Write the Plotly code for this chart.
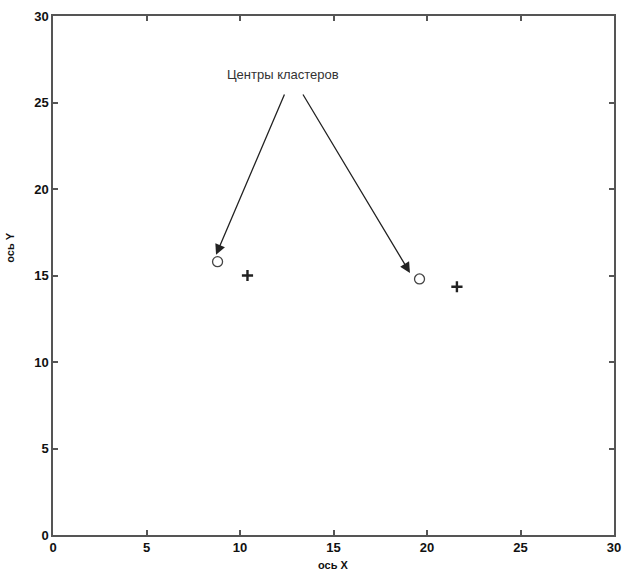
import plotly.graph_objects as go

# Data
centers_x = [8.8, 19.6]
centers_y = [15.8, 14.8]
points_x = [10.4, 21.6]
points_y = [15.0, 14.35]
tick_vals = [0, 5, 10, 15, 20, 25, 30]
tick_text = ["<b>%d</b>" % v for v in tick_vals]
label_text = "Центры кластеров"
label_pos = (12.3, 26.6)
arrow_tails = [(12.41, 25.55), (13.32, 25.55)]
arrow_heads = [(8.72, 16.2), (19.09, 15.15)]

FONT = "Liberation Sans Narrow, Liberation Sans, Arial"

fig = go.Figure()
fig.add_trace(go.Scatter(x=centers_x, y=centers_y, mode="markers",
                         marker=dict(symbol="circle-open", size=10,
                                     color="#444", line=dict(width=1.3)),
                         showlegend=False))
fig.add_trace(go.Scatter(x=points_x, y=points_y, mode="markers",
                         marker=dict(symbol="cross-thin-open", size=8,
                                     color="#222", line=dict(width=2.4)),
                         showlegend=False))

annotations = [dict(x=label_pos[0], y=label_pos[1], xref="x", yref="y",
                    text=label_text, showarrow=False,
                    font=dict(family="Liberation Sans, Arial", size=13, color="#333"))]
for (tx, ty), (hx, hy) in zip(arrow_tails, arrow_heads):
    annotations.append(dict(x=hx, y=hy, ax=tx, ay=ty, xref="x", yref="y",
                            axref="x", ayref="y", text="", showarrow=True,
                            arrowhead=2, arrowsize=1.6, arrowwidth=1.3,
                            arrowcolor="#222"))
annotations.append(dict(x=0.5, y=-0.057, xref="paper", yref="paper",
                        text="<b>ось X</b>", showarrow=False, yanchor="middle",
                        font=dict(family=FONT, size=11, color="#111")))
annotations.append(dict(x=-0.077, y=0.555, xref="paper", yref="paper",
                        text="<b>ось Y</b>", showarrow=False, textangle=-90,
                        xanchor="center", yanchor="middle",
                        font=dict(family=FONT, size=11, color="#111")))

axis_common = dict(range=[0, 30], tickvals=tick_vals, ticktext=tick_text,
                   ticks="inside", ticklen=5, tickcolor="#555", tickwidth=1.5,
                   showline=True, linecolor="#555", linewidth=1.5, mirror="ticks",
                   showgrid=False, zeroline=False, automargin=False,
                   ticklabeloverflow="allow",
                   tickfont=dict(family=FONT, size=13, color="#111"))

fig.update_layout(
    width=624, height=573,
    margin=dict(l=53, r=10, t=16, b=38),
    paper_bgcolor="white", plot_bgcolor="white",
    xaxis=dict(**axis_common),
    yaxis=dict(**axis_common),
    annotations=annotations,
)

fig.write_html("out.html")
